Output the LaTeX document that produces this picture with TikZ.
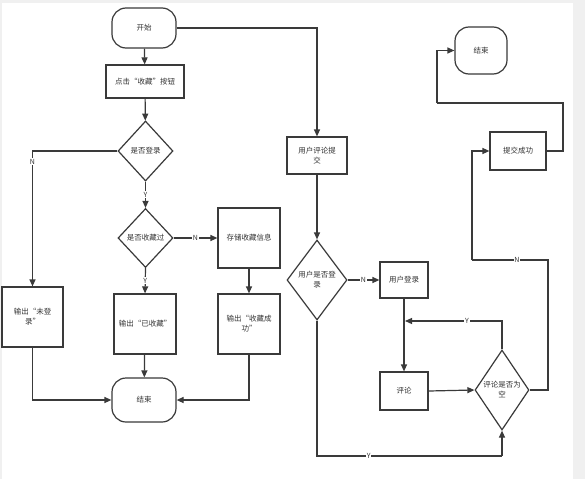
\documentclass[tikz,border=0pt]{standalone}
\usepackage{fontspec}
\setmainfont{Noto Sans CJK SC}
\usetikzlibrary{arrows.meta,shapes.geometric,calc}
\definecolor{ln}{HTML}{3A3A3A}
\definecolor{tx}{HTML}{333333}
\definecolor{bg}{HTML}{F0F0F0}
\begin{document}
\begin{tikzpicture}[x=1pt,y=-1pt,
  every node/.style={font=\fontsize{7.5}{10}\selectfont, text=tx},
  box/.style={draw=ln, line width=1.2pt, rectangle, inner sep=1pt, align=center},
  term/.style={draw=ln, line width=1.2pt, rectangle, rounded corners=14pt, inner sep=1pt, align=center},
  dia/.style={draw=ln, line width=1.2pt, diamond, inner sep=0pt, aspect=1},
  con/.style={draw=ln, line width=1.2pt},
  arr/.style={con, -{Triangle[length=7pt,width=6pt]}},
  lbl/.style={fill=white, inner sep=0.8pt, font=\fontsize{7}{8}\selectfont}
]
\fill[bg] (0,0) rectangle (585,479);
\fill[white] (2,3) rectangle (573,479);
\useasboundingbox (0,0) rectangle (585,479);

% left part
\node[term, minimum width=64pt, minimum height=40pt] (start) at (144,28) {开始};
\node[box, minimum width=78pt, minimum height=33pt] (click) at (145,81.5) {点击“收藏”按钮};
\node[dia, minimum width=55pt, minimum height=60pt, label={[align=center]center:是否登录}] (d1) at (145.5,151) {};
\node[dia, minimum width=55pt, minimum height=59pt, label={[align=center]center:是否收藏过}] (d2) at (145.5,238) {};
\node[box, minimum width=62pt, minimum height=60pt] (store) at (249,238) {存储收藏信息};
\node[box, minimum width=61pt, minimum height=60pt] (notlogin) at (32.5,317) {输出“未登\\录”};
\node[box, minimum width=62pt, minimum height=60pt] (already) at (145,324) {输出“已收藏”};
\node[box, minimum width=62pt, minimum height=60pt] (succ) at (249,324) {输出“收藏成\\功”};
\node[term, minimum width=64pt, minimum height=44pt] (end1) at (144,400) {结束};

% right part
\node[box, minimum width=60pt, minimum height=37pt] (submit) at (317,155.5) {用户评论提\\交};
\node[dia, minimum width=60pt, minimum height=80pt, label={[align=center]center:用户是否登\\录}] (d3) at (317,280) {};
\node[box, minimum width=48pt, minimum height=36pt] (ulogin) at (404,280) {用户登录};
\node[box, minimum width=48pt, minimum height=38pt] (comment) at (404,391) {评论};
\node[dia, minimum width=54pt, minimum height=80pt, label={[align=center]center:评论是否为\\空}] (d4) at (502,390) {};
\node[box, minimum width=56pt, minimum height=38pt] (ok) at (518,151) {提交成功};
\node[term, minimum width=52pt, minimum height=47pt] (end2) at (481,50.5) {结束};

\coordinate (yj) at (405,321);
\coordinate (yb) at (502,456);
\coordinate (c1) at (548,260);
\coordinate (c2) at (472,260);
\coordinate (c3) at (563,103);
\coordinate (c4) at (437,103);

% connectors left
\draw[arr] (start) -- (click);
\draw[arr] (click) -- (d1);
\draw[arr] (d1.south) -- node[lbl] {Y} (d2.north);
\draw[arr] (d1.west) -| node[lbl, pos=0.54] {N} (notlogin.north);
\draw[arr] (d2.east) -- node[lbl] {N} (store.west);
\draw[arr] (d2.south) -- node[lbl] {Y} (already.north);
\draw[arr] (store) -- (succ);
\draw[arr] (notlogin.south) |- (end1.west);
\draw[arr] (succ.south) |- (end1.east);
\draw[arr] (already) -- (end1);

% connectors right
\draw[arr] (start.east) -| (submit.north);
\draw[arr] (submit) -- (d3);
\draw[arr] (d3.east) -- node[lbl] {N} (ulogin.west);
\draw[arr] (ulogin) -- (comment);
\draw[arr] (comment.east) -- (d4.west);
\draw[arr] (d4.north) |- node[lbl, pos=0.68] {Y} (yj);
\draw[con] (d3.south) |- node[lbl, pos=0.64] {Y} (yb);
\draw[arr] (yb) -- (d4.south);
\draw[con] (d4.east) -| (c1) -- node[lbl, pos=0.41] {N} (c2);
\draw[arr] (c2) |- (ok.west);
\draw[con] (ok.east) -| (c3) -- (c4);
\draw[arr] (c4) |- (end2.west);
\end{tikzpicture}
\end{document}
